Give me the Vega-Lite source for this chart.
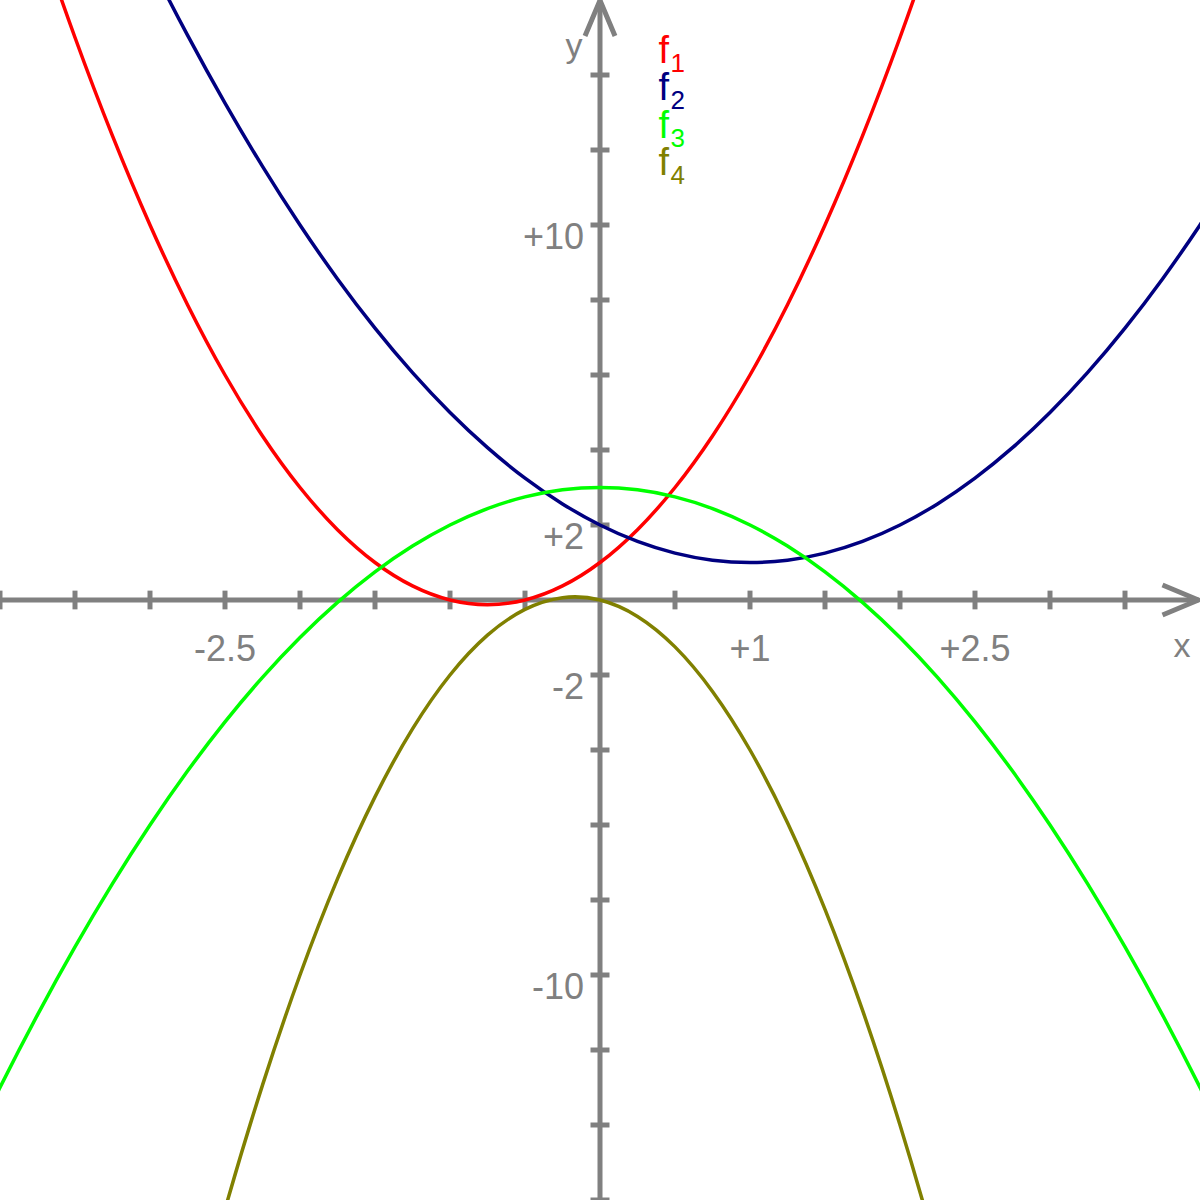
{
  "$schema": "https://vega.github.io/schema/vega-lite/v6.json",
  "autosize": "none",
  "width": 1200,
  "height": 1200,
  "padding": 0,
  "background": "white",
  "config": {"view": {"stroke": null}, "text": {"font": "Liberation Sans"}},
  "datasets": {
    "axes": [
      {"axis": "x", "x1": -4, "x2": 3.99, "y1": 0, "y2": 0},
      {"axis": "y", "x1": 0, "x2": 0, "y1": -16, "y2": 15.99}
    ],
    "xticks": [{"v": -4}, {"v": -3.5}, {"v": -3}, {"v": -2.5}, {"v": -2}, {"v": -1.5}, {"v": -1}, {"v": -0.5}, {"v": 0.5}, {"v": 1}, {"v": 1.5}, {"v": 2}, {"v": 2.5}, {"v": 3}, {"v": 3.5}],
    "yticks": [{"v": -16}, {"v": -14}, {"v": -12}, {"v": -10}, {"v": -8}, {"v": -6}, {"v": -4}, {"v": -2}, {"v": 2}, {"v": 4}, {"v": 6}, {"v": 8}, {"v": 10}, {"v": 12}, {"v": 14}],
    "arrows": [
      {"a": "x", "o": 0, "x": 3.75, "y": 0.4},
      {"a": "x", "o": 1, "x": 3.99, "y": 0},
      {"a": "x", "o": 2, "x": 3.75, "y": -0.4},
      {"a": "y", "o": 0, "x": -0.1, "y": 15.04},
      {"a": "y", "o": 1, "x": 0, "y": 15.99},
      {"a": "y", "o": 2, "x": 0.1, "y": 15.04}
    ],
    "xlabels": [{"v": -2.5, "t": "-2.5"}, {"v": 1, "t": "+1"}, {"v": 2.5, "t": "+2.5"}],
    "ylabels": [{"v": 10, "t": "+10"}, {"v": 2, "t": "+2"}, {"v": -2, "t": "-2"}, {"v": -10, "t": "-10"}],
    "legend": [
      {"f": "f1", "sub": "1", "x": 0.39, "y": 14.33},
      {"f": "f2", "sub": "2", "x": 0.39, "y": 13.33},
      {"f": "f3", "sub": "3", "x": 0.39, "y": 12.33},
      {"f": "f4", "sub": "4", "x": 0.39, "y": 11.33}
    ],
    "curves": [
      {"f": "f1", "x": -4, "y": 21}, {"f": "f1", "x": -3.75, "y": 17.875}, {"f": "f1", "x": -3.5, "y": 15}, {"f": "f1", "x": -3.25, "y": 12.375}, {"f": "f1", "x": -3, "y": 10}, {"f": "f1", "x": -2.75, "y": 7.875}, {"f": "f1", "x": -2.5, "y": 6}, {"f": "f1", "x": -2.25, "y": 4.375}, {"f": "f1", "x": -2, "y": 3}, {"f": "f1", "x": -1.75, "y": 1.875}, {"f": "f1", "x": -1.5, "y": 1}, {"f": "f1", "x": -1.25, "y": 0.375}, {"f": "f1", "x": -1, "y": 0}, {"f": "f1", "x": -0.75, "y": -0.125}, {"f": "f1", "x": -0.5, "y": 0}, {"f": "f1", "x": -0.25, "y": 0.375}, {"f": "f1", "x": 0, "y": 1}, {"f": "f1", "x": 0.25, "y": 1.875}, {"f": "f1", "x": 0.5, "y": 3}, {"f": "f1", "x": 0.75, "y": 4.375}, {"f": "f1", "x": 1, "y": 6}, {"f": "f1", "x": 1.25, "y": 7.875}, {"f": "f1", "x": 1.5, "y": 10}, {"f": "f1", "x": 1.75, "y": 12.375}, {"f": "f1", "x": 2, "y": 15}, {"f": "f1", "x": 2.25, "y": 17.875}, {"f": "f1", "x": 2.5, "y": 21},
      {"f": "f2", "x": -3.25, "y": 19.0625}, {"f": "f2", "x": -3, "y": 17}, {"f": "f2", "x": -2.75, "y": 15.0625}, {"f": "f2", "x": -2.5, "y": 13.25}, {"f": "f2", "x": -2.25, "y": 11.5625}, {"f": "f2", "x": -2, "y": 10}, {"f": "f2", "x": -1.75, "y": 8.5625}, {"f": "f2", "x": -1.5, "y": 7.25}, {"f": "f2", "x": -1.25, "y": 6.0625}, {"f": "f2", "x": -1, "y": 5}, {"f": "f2", "x": -0.75, "y": 4.0625}, {"f": "f2", "x": -0.5, "y": 3.25}, {"f": "f2", "x": -0.25, "y": 2.5625}, {"f": "f2", "x": 0, "y": 2}, {"f": "f2", "x": 0.25, "y": 1.5625}, {"f": "f2", "x": 0.5, "y": 1.25}, {"f": "f2", "x": 0.75, "y": 1.0625}, {"f": "f2", "x": 1, "y": 1}, {"f": "f2", "x": 1.25, "y": 1.0625}, {"f": "f2", "x": 1.5, "y": 1.25}, {"f": "f2", "x": 1.75, "y": 1.5625}, {"f": "f2", "x": 2, "y": 2}, {"f": "f2", "x": 2.25, "y": 2.5625}, {"f": "f2", "x": 2.5, "y": 3.25}, {"f": "f2", "x": 2.75, "y": 4.0625}, {"f": "f2", "x": 3, "y": 5}, {"f": "f2", "x": 3.25, "y": 6.0625}, {"f": "f2", "x": 3.5, "y": 7.25}, {"f": "f2", "x": 3.75, "y": 8.5625}, {"f": "f2", "x": 4, "y": 10}, {"f": "f2", "x": 4.25, "y": 11.5625},
      {"f": "f3", "x": -4.25, "y": -15.0625}, {"f": "f3", "x": -4, "y": -13}, {"f": "f3", "x": -3.75, "y": -11.0625}, {"f": "f3", "x": -3.5, "y": -9.25}, {"f": "f3", "x": -3.25, "y": -7.5625}, {"f": "f3", "x": -3, "y": -6}, {"f": "f3", "x": -2.75, "y": -4.5625}, {"f": "f3", "x": -2.5, "y": -3.25}, {"f": "f3", "x": -2.25, "y": -2.0625}, {"f": "f3", "x": -2, "y": -1}, {"f": "f3", "x": -1.75, "y": -0.0625}, {"f": "f3", "x": -1.5, "y": 0.75}, {"f": "f3", "x": -1.25, "y": 1.4375}, {"f": "f3", "x": -1, "y": 2}, {"f": "f3", "x": -0.75, "y": 2.4375}, {"f": "f3", "x": -0.5, "y": 2.75}, {"f": "f3", "x": -0.25, "y": 2.9375}, {"f": "f3", "x": 0, "y": 3}, {"f": "f3", "x": 0.25, "y": 2.9375}, {"f": "f3", "x": 0.5, "y": 2.75}, {"f": "f3", "x": 0.75, "y": 2.4375}, {"f": "f3", "x": 1, "y": 2}, {"f": "f3", "x": 1.25, "y": 1.4375}, {"f": "f3", "x": 1.5, "y": 0.75}, {"f": "f3", "x": 1.75, "y": -0.0625}, {"f": "f3", "x": 2, "y": -1}, {"f": "f3", "x": 2.25, "y": -2.0625}, {"f": "f3", "x": 2.5, "y": -3.25}, {"f": "f3", "x": 2.75, "y": -4.5625}, {"f": "f3", "x": 3, "y": -6}, {"f": "f3", "x": 3.25, "y": -7.5625}, {"f": "f3", "x": 3.5, "y": -9.25}, {"f": "f3", "x": 3.75, "y": -11.0625}, {"f": "f3", "x": 4, "y": -13}, {"f": "f3", "x": 4.25, "y": -15.0625},
      {"f": "f4", "x": -2.75, "y": -19.9375}, {"f": "f4", "x": -2.5, "y": -16.25}, {"f": "f4", "x": -2.25, "y": -12.9375}, {"f": "f4", "x": -2, "y": -10}, {"f": "f4", "x": -1.75, "y": -7.4375}, {"f": "f4", "x": -1.5, "y": -5.25}, {"f": "f4", "x": -1.25, "y": -3.4375}, {"f": "f4", "x": -1, "y": -2}, {"f": "f4", "x": -0.75, "y": -0.9375}, {"f": "f4", "x": -0.5, "y": -0.25}, {"f": "f4", "x": -0.25, "y": 0.0625}, {"f": "f4", "x": 0, "y": 0}, {"f": "f4", "x": 0.25, "y": -0.4375}, {"f": "f4", "x": 0.5, "y": -1.25}, {"f": "f4", "x": 0.75, "y": -2.4375}, {"f": "f4", "x": 1, "y": -4}, {"f": "f4", "x": 1.25, "y": -5.9375}, {"f": "f4", "x": 1.5, "y": -8.25}, {"f": "f4", "x": 1.75, "y": -10.9375}, {"f": "f4", "x": 2, "y": -14}, {"f": "f4", "x": 2.25, "y": -17.4375}, {"f": "f4", "x": 2.5, "y": -21.25}
    ]
  },
  "layer": [
    {
      "data": {"name": "axes"},
      "mark": {"type": "rule", "stroke": "#808080", "strokeWidth": 5},
      "encoding": {
        "x": {"field": "x1", "type": "quantitative", "scale": {"domain": [-4, 4], "nice": false, "zero": false}, "axis": null},
        "x2": {"field": "x2"},
        "y": {"field": "y1", "type": "quantitative", "scale": {"domain": [-16, 16], "nice": false, "zero": false}, "axis": null},
        "y2": {"field": "y2"}
      }
    },
    {
      "data": {"name": "xticks"},
      "mark": {"type": "rule", "stroke": "#808080", "strokeWidth": 5},
      "encoding": {
        "x": {"field": "v", "type": "quantitative", "scale": {"domain": [-4, 4], "nice": false, "zero": false}, "axis": null},
        "y": {"datum": -0.25, "type": "quantitative", "scale": {"domain": [-16, 16], "nice": false, "zero": false}, "axis": null},
        "y2": {"datum": 0.25}
      }
    },
    {
      "data": {"name": "yticks"},
      "mark": {"type": "rule", "stroke": "#808080", "strokeWidth": 5},
      "encoding": {
        "y": {"field": "v", "type": "quantitative", "scale": {"domain": [-16, 16], "nice": false, "zero": false}, "axis": null},
        "x": {"datum": -0.0633, "type": "quantitative", "scale": {"domain": [-4, 4], "nice": false, "zero": false}, "axis": null},
        "x2": {"datum": 0.0633}
      }
    },
    {
      "data": {"name": "arrows"},
      "mark": {"type": "line", "stroke": "#808080", "strokeWidth": 5, "strokeJoin": "miter", "strokeCap": "butt"},
      "encoding": {
        "x": {"field": "x", "type": "quantitative", "scale": {"domain": [-4, 4], "nice": false, "zero": false}, "axis": null},
        "y": {"field": "y", "type": "quantitative", "scale": {"domain": [-16, 16], "nice": false, "zero": false}, "axis": null},
        "detail": {"field": "a"},
        "order": {"field": "o", "type": "quantitative"}
      }
    },
    {
      "data": {"name": "curves"},
      "mark": {"type": "line", "strokeWidth": 3.5, "interpolate": "cardinal", "clip": true},
      "encoding": {
        "x": {"field": "x", "type": "quantitative", "scale": {"domain": [-4, 4], "nice": false, "zero": false}, "axis": null},
        "y": {"field": "y", "type": "quantitative", "scale": {"domain": [-16, 16], "nice": false, "zero": false}, "axis": null},
        "color": {"field": "f", "type": "nominal", "scale": {"domain": ["f1", "f2", "f3", "f4"], "range": ["#ff0000", "#000080", "#00ff00", "#808000"]}, "legend": null}
      }
    },
    {
      "data": {"name": "xlabels"},
      "mark": {"type": "text", "fontSize": 36, "fill": "#808080", "align": "center", "baseline": "alphabetic", "dy": 61},
      "encoding": {
        "x": {"field": "v", "type": "quantitative", "scale": {"domain": [-4, 4], "nice": false, "zero": false}, "axis": null},
        "y": {"datum": 0, "type": "quantitative", "scale": {"domain": [-16, 16], "nice": false, "zero": false}, "axis": null},
        "text": {"field": "t"}
      }
    },
    {
      "data": {"name": "ylabels"},
      "mark": {"type": "text", "fontSize": 36, "fill": "#808080", "align": "right", "baseline": "alphabetic", "dx": -16, "dy": 24},
      "encoding": {
        "y": {"field": "v", "type": "quantitative", "scale": {"domain": [-16, 16], "nice": false, "zero": false}, "axis": null},
        "x": {"datum": 0, "type": "quantitative", "scale": {"domain": [-4, 4], "nice": false, "zero": false}, "axis": null},
        "text": {"field": "t"}
      }
    },
    {
      "data": {"values": [{"t": "x", "x": 4, "y": 0}]},
      "mark": {"type": "text", "fontSize": 34, "fill": "#808080", "align": "center", "baseline": "alphabetic", "dx": -18, "dy": 57},
      "encoding": {
        "x": {"field": "x", "type": "quantitative", "scale": {"domain": [-4, 4], "nice": false, "zero": false}, "axis": null},
        "y": {"field": "y", "type": "quantitative", "scale": {"domain": [-16, 16], "nice": false, "zero": false}, "axis": null},
        "text": {"field": "t"}
      }
    },
    {
      "data": {"values": [{"t": "y", "x": 0, "y": 16}]},
      "mark": {"type": "text", "fontSize": 34, "fill": "#808080", "align": "center", "baseline": "alphabetic", "dx": -26, "dy": 57},
      "encoding": {
        "x": {"field": "x", "type": "quantitative", "scale": {"domain": [-4, 4], "nice": false, "zero": false}, "axis": null},
        "y": {"field": "y", "type": "quantitative", "scale": {"domain": [-16, 16], "nice": false, "zero": false}, "axis": null},
        "text": {"field": "t"}
      }
    },
    {
      "data": {"name": "legend"},
      "mark": {"type": "text", "fontSize": 38, "align": "left", "baseline": "alphabetic"},
      "encoding": {
        "x": {"field": "x", "type": "quantitative", "scale": {"domain": [-4, 4], "nice": false, "zero": false}, "axis": null},
        "y": {"field": "y", "type": "quantitative", "scale": {"domain": [-16, 16], "nice": false, "zero": false}, "axis": null},
        "color": {"field": "f", "type": "nominal", "scale": {"domain": ["f1", "f2", "f3", "f4"], "range": ["#ff0000", "#000080", "#00ff00", "#808000"]}, "legend": null},
        "text": {"value": "f"}
      }
    },
    {
      "data": {"name": "legend"},
      "mark": {"type": "text", "fontSize": 26, "align": "left", "baseline": "alphabetic", "dx": 12, "dy": 9},
      "encoding": {
        "x": {"field": "x", "type": "quantitative", "scale": {"domain": [-4, 4], "nice": false, "zero": false}, "axis": null},
        "y": {"field": "y", "type": "quantitative", "scale": {"domain": [-16, 16], "nice": false, "zero": false}, "axis": null},
        "color": {"field": "f", "type": "nominal", "scale": {"domain": ["f1", "f2", "f3", "f4"], "range": ["#ff0000", "#000080", "#00ff00", "#808000"]}, "legend": null},
        "text": {"field": "sub"}
      }
    }
  ]
}
